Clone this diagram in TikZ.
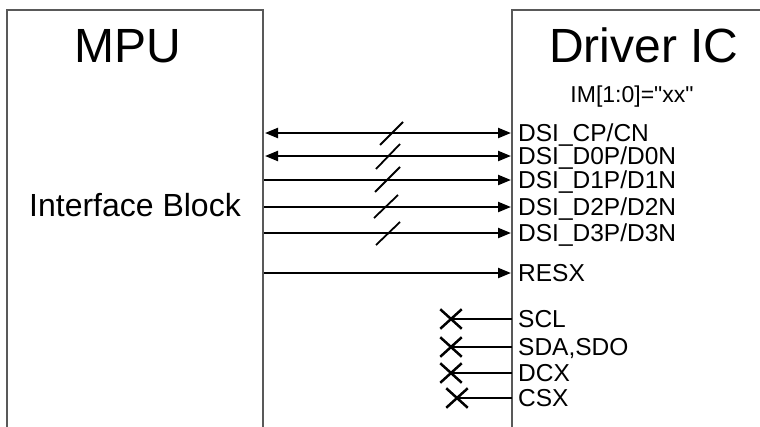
\documentclass[tikz,border=0pt]{standalone}
\usepackage{fontspec}
\setmainfont{Liberation Sans}
\newfontfamily\plainsans{Liberation Sans}
\usetikzlibrary{arrows.meta,shapes.misc}
\begin{document}
\begin{tikzpicture}[x=1pt,y=-1pt,
  box/.style={draw=black!65, line width=1.6pt},
  sig/.style={line width=2.2pt, -{Triangle[length=13pt,width=10pt]}},
  bisig/.style={line width=2.2pt, {Triangle[length=13pt,width=10pt]}-{Triangle[length=13pt,width=10pt]}},
  plain/.style={line width=2.2pt},
  slash/.style={line width=1.8pt},
  pin/.style={anchor=base west, font=\fontsize{24.5}{24.5}\selectfont, inner sep=0pt},
  title/.style={anchor=base, font=\fontsize{48}{48}\selectfont, inner sep=0pt},
  nc/.style={cross out, draw, line width=2.5pt, minimum width=19pt, minimum height=17pt, inner sep=0pt}
]
\useasboundingbox (0,0) rectangle (760,426);
% boxes
\draw[box] (7,428) -- (7,10) -- (263,10) -- (263,428);
\draw[box] (512,428) -- (512,10) -- (762,10);
\node[title] (mpu) at (128,62) {MPU};
\node[title] (drv) at (644,62) {Driver IC};
\node[anchor=base, font=\plainsans\fontsize{23}{23}\selectfont, inner sep=0pt] (im) at (632,102) {IM[1:0]="xx"};
\node[anchor=base, font=\fontsize{32}{32}\selectfont, inner sep=0pt] (ifb) at (135,216) {Interface Block};
% DSI lanes
\foreach \n/\y/\lab in {1/133/{DSI\_CP/CN}, 2/156/{DSI\_D0P/D0N}, 3/180/{DSI\_D1P/D1N}, 4/207/{DSI\_D2P/D2N}, 5/233/{DSI\_D3P/D3N}, 6/273/{RESX}}{
  \coordinate (L\n) at (264,\y);
  \coordinate (R\n) at (511,\y);
  \node[pin] (lab\n) at (518,\y+8.5) {\lab};
}
\coordinate (L1b) at (265,133);
\coordinate (L2b) at (265,156);
\draw[bisig] (L1b) -- (R1);
\draw[bisig] (L2b) -- (R2);
\draw[sig] (L3) -- (R3);
\draw[sig] (L4) -- (R4);
\draw[sig] (L5) -- (R5);
\draw[sig] (L6) -- (R6);
% bus slashes
\draw[slash] (380,145) -- (403,122);
\draw[slash] (376,169) -- (400,144);
\draw[slash] (375,192) -- (400,167);
\draw[slash] (374,218) -- (398,195);
\draw[slash] (376,245) -- (400,222);
% unconnected serial pins
\foreach \n/\y/\x/\lab in {7/319/451/{SCL}, 8/347/451/{SDA,SDO}, 9/373/451/{DCX}, 10/398/457/{CSX}}{
  \coordinate (R\n) at (512,\y);
  \node[nc] (x\n) at (\x,\y) {};
  \draw[plain] (x\n.center) -- (R\n);
  \node[pin] (lab\n) at (518,\y+8.5) {\lab};
}
\end{tikzpicture}
\end{document}
